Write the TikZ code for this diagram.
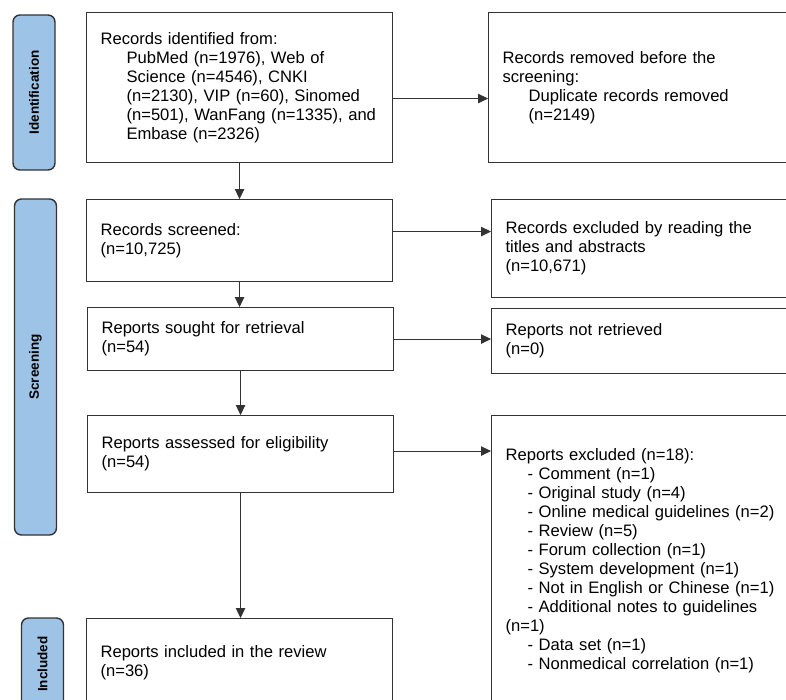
\documentclass[tikz,border=0pt]{standalone}
\usepackage{fontspec}
\setmainfont{Liberation Sans}
\usetikzlibrary{arrows.meta,positioning}
\definecolor{phase}{HTML}{9DC3E6}
\definecolor{edge}{HTML}{333333}

\begin{document}
\begin{tikzpicture}[x=1pt,y=-1pt,
  box/.style={draw=edge,line width=1.1pt,fill=white,anchor=north west,align=left,
    text width=278pt,inner xsep=14pt,inner ysep=0pt,font=\fontsize{16.6}{19}\selectfont},
  phasebar/.style={draw=edge,line width=1.4pt,fill=phase,rounded corners=7pt,rotate=90,
    minimum height=42pt,inner sep=0pt,font=\fontsize{13.5}{16}\selectfont\bfseries},
  arr/.style={-{Triangle[length=10pt,width=9.5pt]},line width=1pt,draw=edge}]
\useasboundingbox (0,0) rectangle (786,699);
% phase bars
\node[phasebar,minimum width=155pt] (idbar) at (34,92.5) {Identification};
\node[phasebar,minimum width=336pt] (scrbar) at (35.5,367) {Screening};
\node[phasebar,minimum width=92pt] (incbar) at (42.5,664) {Included};
% left column
\node[box,minimum height=150pt] (idf) at (86,12) {Records identified from:\\
  \hspace*{26pt}PubMed (n=1976), Web of\\
  \hspace*{26pt}Science (n=4546), CNKI\\
  \hspace*{26pt}(n=2130), VIP (n=60), Sinomed\\
  \hspace*{26pt}(n=501), WanFang (n=1335), and\\
  \hspace*{26pt}Embase (n=2326)};
\node[box,minimum height=82pt] (scr) at (86,199) {Records screened:\\(n=10,725)};
\node[box,minimum height=63pt] (sgt) at (87,307) {Reports sought for retrieval\\(n=54)};
\node[box,minimum height=77pt] (ass) at (87,415) {Reports assessed for eligibility\\(n=54)};
\node[box,minimum height=88pt] (inc) at (86,618) {Reports included in the review\\(n=36)};
% right column
\node[box,minimum height=150pt] (rem) at (488,12) {Records removed before the\\screening:\\
  \hspace*{26pt}Duplicate records removed\\
  \hspace*{26pt}(n=2149)};
\node[box,minimum height=98pt] (exc) at (491,199) {Records excluded by reading the\\titles and abstracts\\(n=10,671)};
\node[box,minimum height=65pt] (nrt) at (491,308) {Reports not retrieved\\(n=0)};
\node[box,minimum height=291pt] (rex) at (491,415) {Reports excluded (n=18):\\
  \hspace*{22pt}- Comment (n=1)\\
  \hspace*{22pt}- Original study (n=4)\\
  \hspace*{22pt}- Online medical guidelines (n=2)\\
  \hspace*{22pt}- Review (n=5)\\
  \hspace*{22pt}- Forum collection (n=1)\\
  \hspace*{22pt}- System development (n=1)\\
  \hspace*{22pt}- Not in English or Chinese (n=1)\\
  \hspace*{22pt}- Additional notes to guidelines\\
  (n=1)\\
  \hspace*{22pt}- Data set (n=1)\\
  \hspace*{22pt}- Nonmedical correlation (n=1)};
% arrows
\draw[arr] (idf.south) -- (scr.north);
\draw[arr] (scr.south) -- (scr.south |- sgt.north);
\draw[arr] (sgt.south) -- (ass.north);
\draw[arr] (ass.south) -- (ass.south |- inc.north);
\draw[arr] ([yshift=-11pt]idf.east) -- ([yshift=-11pt]idf.east -| rem.west);
\draw[arr] ([yshift=9pt]scr.east) -- ([yshift=9pt]scr.east -| exc.west);
\draw[arr] (sgt.east) -- (sgt.east -| nrt.west);
\draw[arr] ([yshift=3pt]ass.east) -- ([yshift=3pt]ass.east -| rex.west);
\end{tikzpicture}
\end{document}
